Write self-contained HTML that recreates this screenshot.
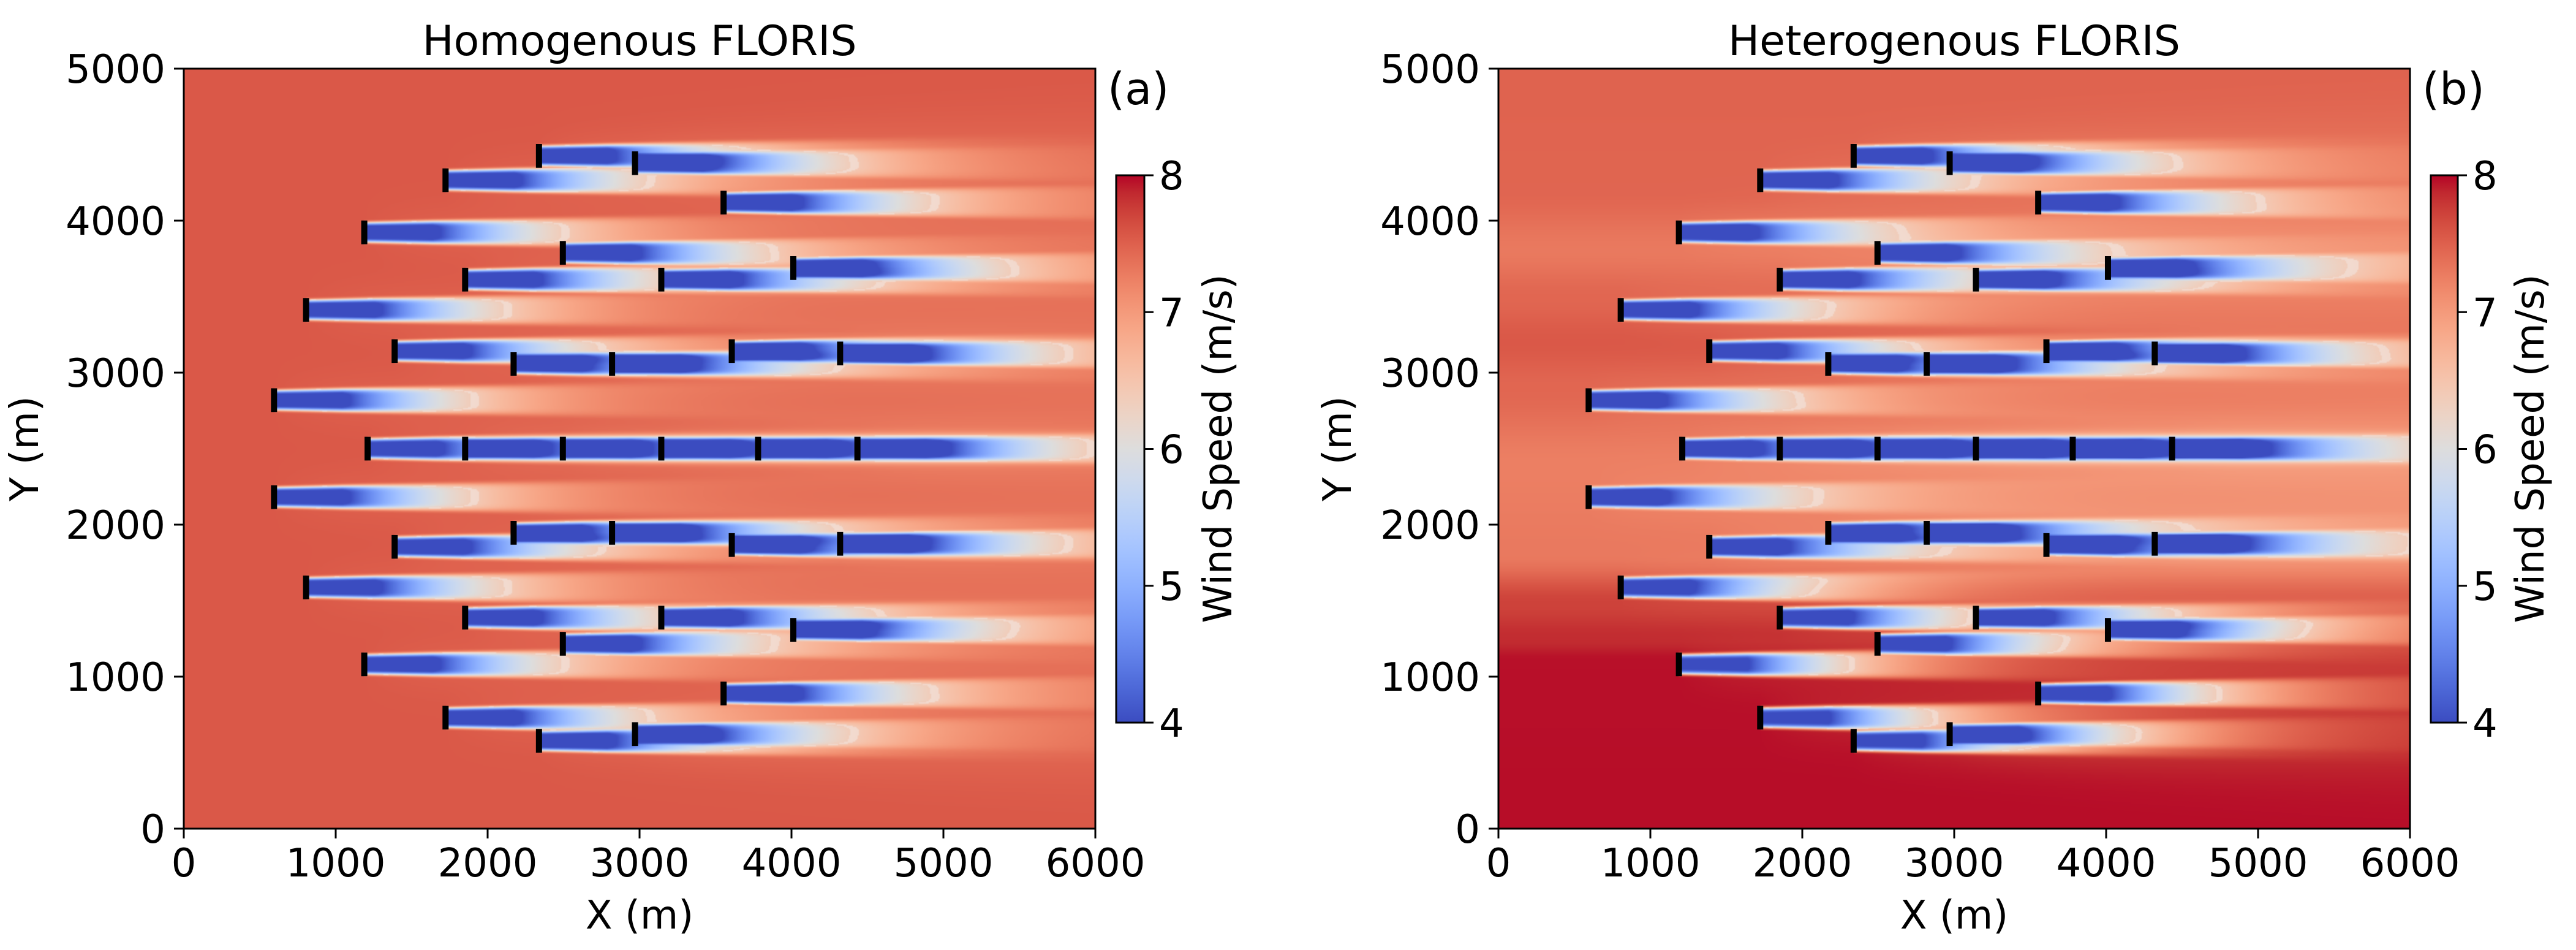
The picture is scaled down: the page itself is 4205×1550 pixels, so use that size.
<!DOCTYPE html>
<html><head><meta charset="utf-8">
<style>
html,body{margin:0;padding:0;background:#fff;}
#root{position:relative;width:4205px;height:1550px;overflow:hidden;background:#fff;}
canvas{position:absolute;}
svg{position:absolute;left:0;top:0;}
text{font-family:"DejaVu Sans","Liberation Sans",sans-serif;fill:#000;}
</style></head>
<body>
<div id="root">
<canvas id="fieldA" width="744" height="620" style="left:300px;top:112px;width:1488px;height:1240px;"></canvas>
<canvas id="fieldB" width="744" height="620" style="left:2446px;top:112px;width:1488px;height:1240px;"></canvas>
<div id="cbA" style="position:absolute;left:1822px;top:286px;width:46px;height:893px;"></div>
<div id="cbB" style="position:absolute;left:3968px;top:286px;width:44px;height:893px;"></div>
<svg id="overlay" width="4205" height="1550"></svg>
</div>
<script>
// ---- data ----
const turbX = [2338,2970,1723,3553,1188,2495,1852,3143,4012,805,1388,2171,2819,3607,4320,594,
  1210,1852,2495,3143,3780,4434,594,1388,2171,2819,3607,4320,805,1852,3143,4012,2495,1188,3553,1723,2338,2970];
const turbY = [4426,4378,4266,4119,3923,3788,3612,3612,3688,3413,3142,3058,3058,3142,3126,2819,
  2500,2500,2500,2500,2500,2500,2181,1854,1946,1946,1866,1874,1587,1388,1388,1308,1216,1081,889,730,578,622];
const homogU = 7.56;
const profileY = [0,1100,1250,1480,1800,2400,2900,3200,3500,3800,4200,5000];
const profileU = [7.97,7.96,7.85,7.72,7.3,7.25,7.45,7.56,7.45,7.3,7.46,7.48];
const xTicks = [0,1000,2000,3000,4000,5000,6000];
const yTicks = [0,1000,2000,3000,4000,5000];
const cbTicks = [4,5,6,7,8];

// ---- geometry ----
const SCALE = 0.248, AX_W = 1488, AX_H = 1240, TOP = 112, BOTTOM = 1352;
const panels = [
  {left:300, canvas:'fieldA', cb:'cbA', cbL:1822, cbR:1868, title:'Homogenous FLORIS', tag:'(a)', tagX:1808, cbLabelX:2010, yLabelX:62, het:false},
  {left:2446, canvas:'fieldB', cb:'cbB', cbL:3968, cbR:4012, title:'Heterogenous FLORIS', tag:'(b)', tagX:3954, cbLabelX:4152, yLabelX:2205, het:true}
];
const CB_TOP = 286, CB_BOT = 1179;

const LUT = [[59,76,192],[68,90,204],[77,104,215],[87,117,225],[98,130,234],[108,142,241],[119,154,247],[130,165,251],[141,176,254],[152,185,255],[163,194,255],[174,201,253],[184,208,249],[194,213,244],[204,217,238],[213,219,230],[221,221,221],[229,216,209],[236,211,197],[241,204,185],[245,196,173],[247,187,160],[247,177,148],[247,166,135],[244,154,123],[241,141,111],[236,127,99],[229,112,88],[222,96,77],[213,80,66],[203,62,56],[192,40,47],[180,4,38]];
function cmap(t){
  t=Math.max(0,Math.min(1,t))*(LUT.length-1);
  const i=Math.min(LUT.length-2,Math.floor(t)), f=t-i;
  return [0,1,2].map(k=>LUT[i][k]+(LUT[i+1][k]-LUT[i][k])*f);
}
function inflow(y,het){
  if(!het) return homogU;
  for(let i=0;i<profileY.length-1;i++){
    if(y<=profileY[i+1]){const f=(y-profileY[i])/(profileY[i+1]-profileY[i]);const s=f*f*(3-2*f);return profileU[i]+(profileU[i+1]-profileU[i])*s;}
  }
  return profileU[profileU.length-1];
}
function speed(x,y,het){
  let ss=0, broad=0;
  for(let i=0;i<turbX.length;i++){
    const dx=x-turbX[i]; if(dx<=0) continue;
    const dy=y-turbY[i];
    const s=64+0.02*dx, r=dy/s, r2=r*r;
    if(r2<9){
      const a = dx<450?0.5:0.5*Math.exp(-(dx-450)/700);
      const d=a*Math.exp(-r2*r2*r2);
      ss+=d*d;
    }
    const s2=160+0.05*dx;
    broad += 0.012*(1-Math.exp(-dx/400))*Math.exp(-dx/4000)*Math.exp(-(dy*dy)/(s2*s2));
  }
  const def=Math.sqrt(ss)+Math.min(broad,0.06);
  return inflow(y,het)*(1-Math.min(def,0.6));
}
function drawField(p){
  const c=document.getElementById(p.canvas), ctx=c.getContext('2d');
  const W=c.width,H=c.height, img=ctx.createImageData(W,H);
  for(let j=0;j<H;j++){
    const y=5000-(j+0.5)*5000/H;
    for(let i=0;i<W;i++){
      const x=(i+0.5)*6000/W;
      const u=speed(x,y,p.het);
      let col=cmap((u-4)/4);
      if(Math.abs(u-6.4)<0.04) col=[col[0]*0.4+242*0.6,col[1]*0.4+228*0.6,col[2]*0.4+222*0.6];
      const o=(j*W+i)*4;
      img.data[o]=col[0];img.data[o+1]=col[1];img.data[o+2]=col[2];img.data[o+3]=255;
    }
  }
  ctx.putImageData(img,0,0);
}
const NS='http://www.w3.org/2000/svg';
const svg=document.getElementById('overlay');
function mk(tag,attrs,txt){const e=document.createElementNS(NS,tag);for(const k in attrs)e.setAttribute(k,attrs[k]);if(txt!==undefined)e.textContent=txt;svg.appendChild(e);return e;}

panels.forEach((p,pi)=>{
  drawField(p);
  const sx=x=>p.left+x*SCALE, sy=y=>BOTTOM-y*SCALE;
  document.getElementById(p.cb).style.background=`linear-gradient(to top, ${LUT.map((c,i)=>`rgb(${c[0]},${c[1]},${c[2]}) ${(i*100/(LUT.length-1)).toFixed(2)}%`).join(',')})`;
  for(let i=0;i<turbX.length;i++){
    const el=mk('line',{x1:sx(turbX[i]),x2:sx(turbX[i]),y1:sy(turbY[i]+78),y2:sy(turbY[i]-78),stroke:'#000','stroke-width':10});
    
    
  }
  const fr=mk('rect',{x:p.left,y:TOP,width:AX_W,height:AX_H,fill:'none',stroke:'#000','stroke-width':3});
  
  
  xTicks.forEach(v=>{
    const t=mk('line',{x1:sx(v),x2:sx(v),y1:BOTTOM,y2:BOTTOM+16,stroke:'#000','stroke-width':3});
    
    
    const l=mk('text',{x:sx(v),y:1430,'font-size':64,'text-anchor':'middle'},String(v));
    
    
  });
  yTicks.forEach(v=>{
    const t=mk('line',{x1:p.left-16,x2:p.left,y1:sy(v),y2:sy(v),stroke:'#000','stroke-width':3});
    
    
    const l=mk('text',{x:p.left-30,y:sy(v)+23,'font-size':64,'text-anchor':'end'},String(v));
    
    
  });
  const xl=mk('text',{x:p.left+AX_W/2,y:1515,'font-size':64,'text-anchor':'middle'},'X (m)');
  
  
  const yl=mk('text',{x:p.yLabelX,y:732,'font-size':64,'text-anchor':'middle',transform:`rotate(-90 ${p.yLabelX} 732)`},'Y (m)');
  
  
  const ti=mk('text',{x:p.left+AX_W/2,y:90,'font-size':68,'text-anchor':'middle'},p.title);
  
  
  const tg=mk('text',{x:p.tagX,y:170,'font-size':72},p.tag);
  
  
  const cf=mk('rect',{x:p.cbL,y:CB_TOP,width:p.cbR-p.cbL,height:CB_BOT-CB_TOP,fill:'none',stroke:'#000','stroke-width':3});
  
  
  const cy=v=>CB_BOT-(v-4)/4*(CB_BOT-CB_TOP);
  cbTicks.forEach(v=>{
    const t=mk('line',{x1:p.cbR,x2:p.cbR+15,y1:cy(v),y2:cy(v),stroke:'#000','stroke-width':3});
    
    
    const l=mk('text',{x:p.cbR+24,y:cy(v)+23,'font-size':64},String(v));
    
    
  });
  const cl=mk('text',{x:p.cbLabelX,y:732,'font-size':64,'text-anchor':'middle',transform:`rotate(-90 ${p.cbLabelX} 732)`},'Wind Speed (m/s)');
  
  
});
</script>
</body></html>
